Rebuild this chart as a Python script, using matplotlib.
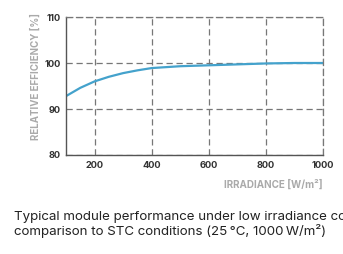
import matplotlib
matplotlib.use("Agg")
import matplotlib.pyplot as plt

# values
irradiance = [100, 150, 200, 250, 300, 350, 400, 450, 500, 600, 700, 800, 900, 1000]
efficiency = [92.8, 94.6, 96.0, 97.0, 97.8, 98.4, 98.9, 99.1, 99.3, 99.5, 99.7, 99.9, 100.0, 100.0]

x_ticks = [200, 400, 600, 800, 1000]
y_ticks = [80, 90, 100, 110]

caption = ("Typical module performance under low irradiance conditions in\n"
           "comparison to STC conditions (25\u2009\u00b0C, 1000\u2009W/m\u00b2)")

plt.rcParams["font.family"] = ["Inter", "DejaVu Sans"]

fig = plt.figure(figsize=(3.43, 2.54), dpi=100)
ax = fig.add_axes([66 / 343, 1 - 155 / 254, (323 - 66) / 343, (155 - 17) / 254])

ax.plot(irradiance, efficiency, color="#44a2cc", linewidth=1.6)

ax.set_xlim(100, 1000)
ax.set_ylim(80, 110)
ax.set_xticks(x_ticks)
ax.set_yticks(y_ticks)
ax.tick_params(length=0, labelsize=6.7, pad=4, colors="#333333")
for lbl in ax.get_xticklabels() + ax.get_yticklabels():
    lbl.set_fontweight("bold")

ax.grid(True, color="#777777", linestyle=(0, (5, 3)), linewidth=0.9)
for side in ["top", "right"]:
    ax.spines[side].set_linestyle((0, (5, 3)))
    ax.spines[side].set_color("#777777")
    ax.spines[side].set_linewidth(0.9)
for side in ["left", "bottom"]:
    ax.spines[side].set_color("#555555")
    ax.spines[side].set_linewidth(1.0)

ax.set_ylabel("RELATIVE EFFICIENCY [%]", fontsize=7.0, fontweight="bold", color="#aaaaaa")
ax.yaxis.set_label_coords(-0.1, 0.57)
ax.set_xlabel("IRRADIANCE [W/m\u00b2]", fontsize=7.1, fontweight="bold", color="#aaaaaa", loc="right", labelpad=7)

fig.text(14 / 343, 1 - 211 / 254, caption, fontsize=9.6, color="#222222", va="top", ha="left", linespacing=1.12)

fig.savefig("out.png", dpi=100)
